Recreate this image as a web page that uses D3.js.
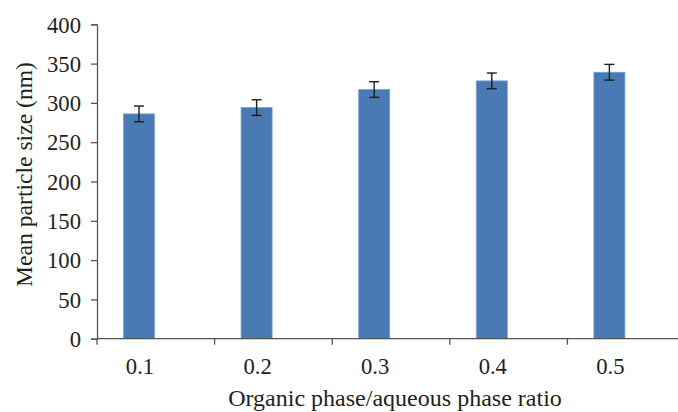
<!DOCTYPE html>
<html>
<head>
<meta charset="utf-8">
<script src="https://cdn.jsdelivr.net/npm/d3@7"></script>
<style>
  html, body { margin: 0; padding: 0; background: #fff; }
  svg { display: block; }
</style>
</head>
<body>
<svg id="chart" width="678" height="412"></svg>
<script>
const categories = ["0.1", "0.2", "0.3", "0.4", "0.5"];
const values = [286, 294, 317, 328, 339];
const errors = [10, 10, 10, 10, 10];
const yTicks = [0, 50, 100, 150, 200, 250, 300, 350, 400];

const FONT = "'Liberation Serif', 'Times New Roman', serif";
const svg = d3.select("#chart");
const x0 = 97, step = 117.6;
const x = d3.scaleBand().domain(categories).range([x0, x0 + step * categories.length]).paddingInner(0).paddingOuter(0);
const y = d3.scaleLinear().domain([0, 400]).range([338.7, 24.3]);

const barOff = 26.5, barW = 31;
const axisColor = "#555";

// fit a font size so a sample string reaches a target width
function fitSize(str, target) {
  const t = svg.append("text").attr("font-family", FONT).attr("font-size", 20).text(str);
  const w = t.node().getComputedTextLength();
  t.remove();
  return 20 * target / w;
}
const tickSize = fitSize("400", 34);
const xTitleSize = fitSize("Organic phase/aqueous phase ratio", 334);
const yTitleSize = fitSize("Mean particle size (nm)", 225);

// y axis
const yAxis = svg.append("g").attr("transform", `translate(${x0},0)`)
  .call(d3.axisLeft(y).tickValues(yTicks).tickSize(6).tickPadding(10).tickFormat(d3.format("d")));
yAxis.attr("font-family", FONT).attr("font-size", tickSize);
yAxis.select(".domain").attr("stroke", axisColor).attr("stroke-width", 1.3);
yAxis.selectAll(".tick line").attr("stroke", axisColor).attr("stroke-width", 1.3);
yAxis.selectAll(".tick text").attr("fill", "#231f20").attr("dy", "0.34em");

// bars
svg.append("g").selectAll("rect").data(values).join("rect")
  .attr("x", (d, i) => x(categories[i]) + barOff)
  .attr("width", barW)
  .attr("y", d => y(d))
  .attr("height", d => y(0) - y(d))
  .attr("fill", "#4a7ab4")
  .attr("stroke", "#7a9fce")
  .attr("stroke-width", 0.8);

// error bars
const eg = svg.append("g").attr("stroke", "#1e1e1e").attr("stroke-width", 1.4);
values.forEach((v, i) => {
  const cx = x(categories[i]) + barOff + barW / 2;
  const e = errors[i];
  eg.append("line").attr("x1", cx).attr("x2", cx).attr("y1", y(v + e)).attr("y2", y(v - e));
  eg.append("line").attr("x1", cx - 5).attr("x2", cx + 5).attr("y1", y(v + e)).attr("y2", y(v + e));
  eg.append("line").attr("x1", cx - 5).attr("x2", cx + 5).attr("y1", y(v - e)).attr("y2", y(v - e));
});

// x axis line and ticks (between categories)
const xg = svg.append("g").attr("font-family", FONT).attr("fill", "#231f20");
xg.append("line").attr("x1", x0).attr("x2", x0 + step * categories.length)
  .attr("y1", y(0)).attr("y2", y(0)).attr("stroke", axisColor).attr("stroke-width", 1.3);
categories.forEach((c, i) => {
  const tx = x(c);
  xg.append("line").attr("x1", tx).attr("x2", tx).attr("y1", y(0)).attr("y2", y(0) + 6)
    .attr("stroke", axisColor).attr("stroke-width", 1.3);
  xg.append("text").attr("x", tx + barOff + barW / 2 + 1).attr("y", 374)
    .attr("text-anchor", "middle").attr("font-size", tickSize).text(c);
});

// axis titles
svg.append("text").attr("x", 395).attr("y", 406).attr("text-anchor", "middle")
  .attr("font-family", FONT).attr("fill", "#231f20")
  .attr("font-size", xTitleSize).text("Organic phase/aqueous phase ratio");
svg.append("text").attr("transform", "translate(32,174.5) rotate(-90)").attr("text-anchor", "middle")
  .attr("font-family", FONT).attr("fill", "#231f20")
  .attr("font-size", yTitleSize).text("Mean particle size (nm)");
</script>
</body>
</html>
